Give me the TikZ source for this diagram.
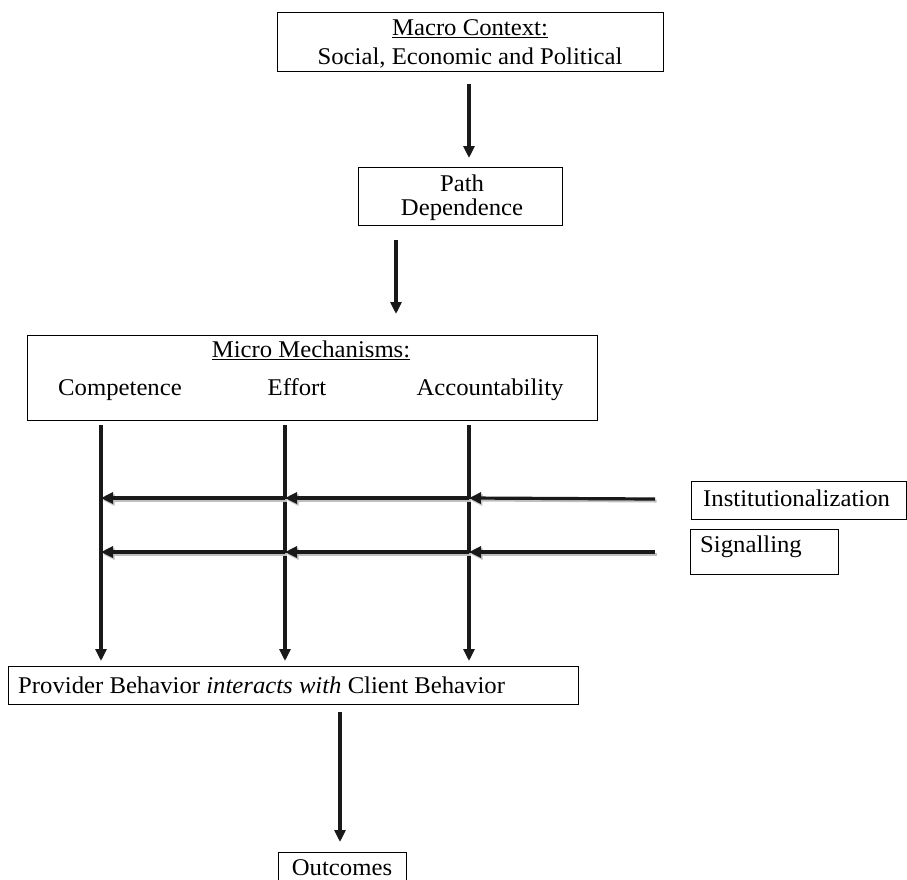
\documentclass[tikz,border=0pt]{standalone}
\usepackage{fontspec}
\setmainfont{Liberation Serif}[FakeStretch=1.03]
\usetikzlibrary{arrows.meta}
\begin{document}
\begin{tikzpicture}[x=1pt,y=-1pt,
  box/.style={draw, line width=1pt, rectangle, inner sep=0pt, anchor=north west},
  lbl/.style={font=\fontsize{24}{28}\selectfont, inner sep=0pt, anchor=base},
  lblw/.style={lbl, anchor=base west},
  arr/.style={line width=3.2pt, draw=black!90, -{Triangle[length=12pt,width=11pt]}},
  sarr/.style={arr, preaction={draw=black!25, line width=3pt, transform canvas={shift={(1.5pt,-2pt)}}}}
]
\useasboundingbox (0,0) rectangle (907,879);

% boxes
\node[box, minimum width=386pt, minimum height=59pt] (macro) at (277,12) {};
\node[box, minimum width=204pt, minimum height=58pt] (path) at (358,167) {};
\node[box, minimum width=570pt, minimum height=85pt] (micro) at (27,335) {};
\node[box, minimum width=215pt, minimum height=38pt] (inst) at (691,481) {};
\node[box, minimum width=148pt, minimum height=45pt] (sig) at (690,529) {};
\node[box, minimum width=570pt, minimum height=38pt] (prov) at (8,666) {};
\node[box, minimum width=128pt, minimum height=43pt] (out) at (278,852) {};

% texts
\node[lbl] (tmacro) at (470,35) {\underline{Macro Context:}};
\node[lbl] (tsoc) at (470,64) {Social, Economic and Political};
\node[lbl] (tpath) at (462,191) {Path};
\node[lbl] (tdep) at (462,215) {Dependence};
\node[lbl] (tmicro) at (311,357) {\underline{Micro Mechanisms:}};
\node[lbl] (tcomp) at (120,395) {Competence};
\node[lbl] (teff) at (297,395) {Effort};
\node[lbl] (tacc) at (490,395) {Accountability};
\node[lblw] (tinst) at (703,506) {Institutionalization};
\node[lblw] (tsig) at (700,552) {Signalling};
\node[lblw] (tprov) at (18,693) {Provider Behavior \textit{interacts with} Client Behavior};
\node[lbl] (tout) at (342,875) {Outcomes};

% coordinates
\coordinate (m1) at (469,84);
\coordinate (m2) at (469,158);
\coordinate (p1) at (396,240);
\coordinate (p2) at (396,314);
\coordinate (c0) at (101,425);
\coordinate (e0) at (285,425);
\coordinate (a0) at (469,425);
\coordinate (c3) at (101,661);
\coordinate (e3) at (285,661);
\coordinate (a3) at (469,661);
\coordinate (i1) at (655,499);
\coordinate (a1) at (469,498);
\coordinate (e1) at (285,498);
\coordinate (c1) at (101,498);
\coordinate (s1) at (655,552);
\coordinate (a2) at (469,552);
\coordinate (e2) at (285,552);
\coordinate (c2) at (101,552);
\coordinate (o1) at (340,712);
\coordinate (o2) at (340,842);

% connectors
\draw[arr] (m1) -- (m2);
\draw[arr] (p1) -- (p2);
\draw[arr] (c0) -- (c3);
\draw[arr] (e0) -- (e3);
\draw[arr] (a0) -- (a3);
\draw[sarr] (i1) -- (a1);
\draw[sarr] (a1) -- (e1);
\draw[sarr] (e1) -- (c1);
\draw[sarr] (s1) -- (a2);
\draw[sarr] (a2) -- (e2);
\draw[sarr] (e2) -- (c2);
\draw[arr] (o1) -- (o2);
\end{tikzpicture}
\end{document}
